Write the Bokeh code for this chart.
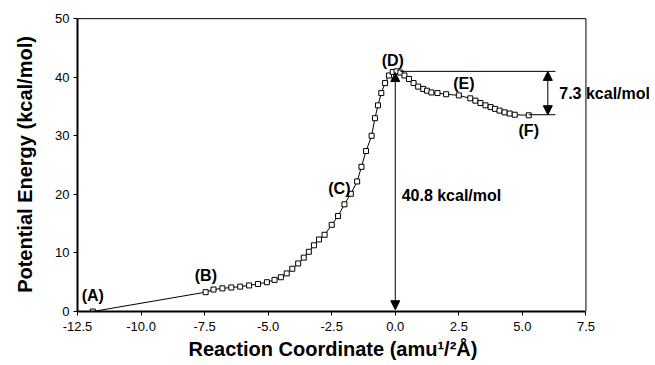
from bokeh.plotting import figure
from bokeh.models import (FixedTicker, NumeralTickFormatter, Label, Arrow, NormalHead,
                          ColumnDataSource, Range1d, Title)
from bokeh.embed import file_html
from bokeh.resources import INLINE

# reaction path data (reaction coordinate, potential energy)
rc = [-11.9, -7.46, -7.15, -6.8, -6.45, -6.1, -5.75, -5.4, -5.05, -4.75, -4.5,
      -4.27, -4.05, -3.82, -3.6, -3.4, -3.2, -3.0, -2.78, -2.5, -2.25, -2.0,
      -1.75, -1.5, -1.33, -1.15, -0.93, -0.8, -0.68, -0.55, -0.4, -0.25, -0.1,
      0.05, 0.2, 0.36, 0.54, 0.72, 0.9, 1.1, 1.25, 1.42, 1.66, 2.0, 2.5, 2.95,
      3.15, 3.35, 3.55, 3.75, 3.92, 4.1, 4.3, 4.5, 4.7, 5.25]
energy = [0, 3.3, 3.75, 3.95, 4.1, 4.25, 4.45, 4.7, 5.0, 5.4, 5.85, 6.5, 7.3,
          8.2, 9.2, 10.2, 11.3, 12.3, 13.1, 14.8, 16.3, 18.3, 20.1, 22.2, 24.7,
          27.4, 30.0, 33.0, 35.2, 37.3, 39.0, 40.3, 40.9, 41.0, 40.8, 40.3, 39.7,
          39.0, 38.4, 38.0, 37.7, 37.4, 37.3, 37.1, 36.9, 36.4, 36.0, 35.6, 35.2,
          34.9, 34.6, 34.3, 34.0, 33.8, 33.6, 33.5]

x_min, x_max = -12.5, 7.5
y_min, y_max = 0, 50
x_ticks = [-12.5, -10.0, -7.5, -5.0, -2.5, 0.0, 2.5, 5.0, 7.5]
y_ticks = [0, 10, 20, 30, 40, 50]

point_labels = ["(A)", "(B)", "(C)", "(D)", "(E)", "(F)"]
point_label_x = [-11.9, -7.45, -2.2, -0.1, 2.7, 5.25]
point_label_y = [2.7, 6.1, 21.0, 42.8, 39.0, 30.9]

barrier = 40.8          # kcal/mol (forward barrier)
reverse = 7.3           # kcal/mol (reverse barrier)
ts_energy = 41.0
product_energy = 33.6

FONT = "Liberation Sans"

p = figure(frame_width=572, frame_height=294, output_backend="svg",
           toolbar_location=None,
           x_range=Range1d(x_min, 10.0), y_range=Range1d(y_min, 50.2),
           min_border_left=77, min_border_right=0, min_border_top=17,
           min_border_bottom=0)
p.grid.visible = False
p.outline_line_color = None
p.background_fill_color = "white"
p.border_fill_color = "white"

for ax in (p.xaxis[0], p.yaxis[0]):
    ax.axis_line_width = 2
    ax.axis_line_color = "black"
    ax.major_tick_line_color = "black"
    ax.major_tick_out = 4
    ax.major_tick_in = 0
    ax.minor_tick_line_color = None
    ax.major_label_text_font = FONT
    ax.major_label_text_font_size = "13px"
    ax.major_label_text_color = "black"
    ax.axis_label_text_font = FONT
    ax.axis_label_text_font_style = "bold"
    ax.axis_label_text_font_size = "20px"
    ax.axis_label_text_color = "black"

p.xaxis.bounds = (x_min, x_max)
p.yaxis.bounds = (y_min, y_max)
p.xaxis.ticker = FixedTicker(ticks=x_ticks)
p.xaxis.formatter = NumeralTickFormatter(format="0.0")
p.yaxis.ticker = FixedTicker(ticks=y_ticks)
p.yaxis.axis_label = "Potential Energy (kcal/mol)"
p.xaxis.major_label_standoff = 6
p.yaxis.major_label_standoff = 4
p.yaxis.axis_label_standoff = 16

p.add_layout(Title(text="Reaction Coordinate (amu\u00b9/\u00b2\u00c5)", align="left",
                   offset=111, standoff=5, text_font=FONT, text_font_style="bold",
                   text_font_size="20px", text_color="black"), "below")

# plot box (top and right borders)
p.line([x_min, x_max], [y_max, y_max], line_color="black", line_width=1)
p.line([x_max, x_max], [y_min, y_max], line_color="black", line_width=1)

src = ColumnDataSource(dict(x=rc, y=energy))
p.line("x", "y", source=src, line_color="black", line_width=1)
p.scatter("x", "y", source=src, marker="square", size=5, fill_color="white",
          line_color="black", line_width=1)

# reference lines
p.line([0.2, 6.3], [ts_energy, ts_energy], line_color="black", line_width=1)
p.line([rc[-1], 6.3], [product_energy, product_energy], line_color="black", line_width=1)

# arrows
p.add_layout(Arrow(x_start=0, y_start=0.3, x_end=0, y_end=ts_energy - 0.2,
                   start=NormalHead(size=9, fill_color="black", line_color="black"),
                   end=NormalHead(size=9, fill_color="black", line_color="black"),
                   line_color="black", line_width=1))
p.add_layout(Arrow(x_start=6.0, y_start=product_energy, x_end=6.0, y_end=ts_energy,
                   start=NormalHead(size=9, fill_color="black", line_color="black"),
                   end=NormalHead(size=9, fill_color="black", line_color="black"),
                   line_color="black", line_width=1))

for t, lx, ly in zip(point_labels, point_label_x, point_label_y):
    p.add_layout(Label(x=lx, y=ly, text=t, text_font=FONT, text_font_style="bold",
                       text_font_size="16px", text_align="center",
                       text_baseline="middle", text_color="black"))

p.add_layout(Label(x=6.45, y=37.3, text=f"{reverse} kcal/mol", text_font=FONT,
                   text_font_style="bold", text_font_size="16px",
                   text_baseline="middle", text_color="black"))
p.add_layout(Label(x=0.25, y=19.8, text=f"{barrier} kcal/mol", text_font=FONT,
                   text_font_style="bold", text_font_size="16px",
                   text_baseline="middle", text_color="black"))

open("out.html", "w").write(file_html(p, INLINE))
